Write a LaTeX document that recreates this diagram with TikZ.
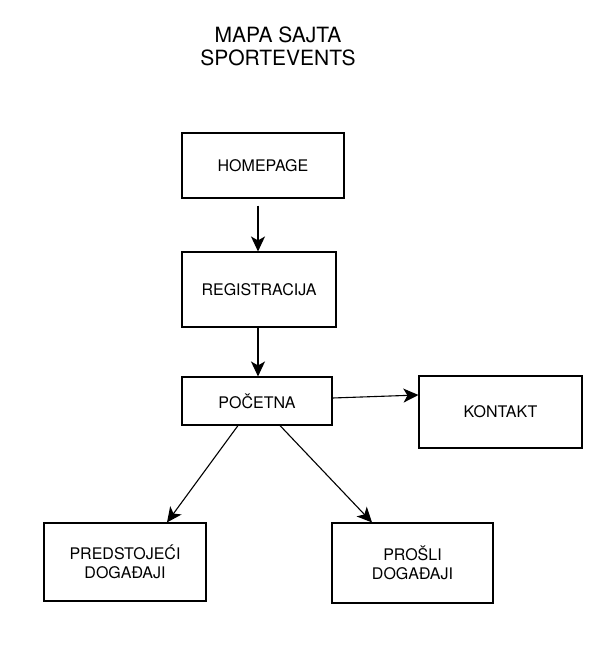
\documentclass[tikz,border=0pt]{standalone}
\usepackage{fontspec}
\setmainfont{TeX Gyre Heros}
\usepackage{tikz}
\usetikzlibrary{positioning, arrows.meta}

\tikzset{
	page/.style = {draw = black, line width = 1.1pt, inner sep = 0pt, align = center, font = \fontsize{16}{19}\selectfont},
	link/.style = {draw = black, line width = 1.1pt, -{Stealth[length = 15pt, width = 14pt, inset = 4pt]}}
}

\begin{document}
\begin{tikzpicture}[x = 1pt, y = -1pt]
		\useasboundingbox (0, 0) rectangle (608, 646);
		\node[align = center, font = \fontsize{21}{23}\selectfont] (title) at (278, 46) {MAPA SAJTA\\SPORTEVENTS};
		\node[page, minimum width = 162pt, minimum height = 65pt] (homepage) at (263, 165.5) {HOMEPAGE};
		\node[page, minimum width = 154pt, minimum height = 75pt] (registracija) at (259, 289.5) {REGISTRACIJA};
		\node[page, minimum width = 150pt, minimum height = 48pt] (pocetna) at (257, 401) {POČETNA};
		\node[page, minimum width = 163pt, minimum height = 72pt] (kontakt) at (500.5, 412) {KONTAKT};
		\node[page, minimum width = 162pt, minimum height = 78pt] (predstojeci) at (125, 562) {PREDSTOJEĆI\\DOGAĐAJI};
		\node[page, minimum width = 161pt, minimum height = 80pt] (prosli) at (412.5, 563) {PROŠLI\\DOGAĐAJI};
		\draw[link, shorten <= 7pt] ([xshift = -5pt]homepage.south) -- ([xshift = -1pt]registracija.north);
		\draw[link] ([xshift = -1pt]registracija.south) -- ([xshift = 1pt]pocetna.north);
		\draw[link] ([yshift = 3pt]pocetna.east) -- ([yshift = 17pt]kontakt.west);
		\draw[link] ([xshift = -19pt]pocetna.south) -- ([xshift = 42pt]predstojeci.north);
		\draw[link] ([xshift = 23pt]pocetna.south) -- ([xshift = -40.5pt]prosli.north);
\end{tikzpicture}
\end{document}
